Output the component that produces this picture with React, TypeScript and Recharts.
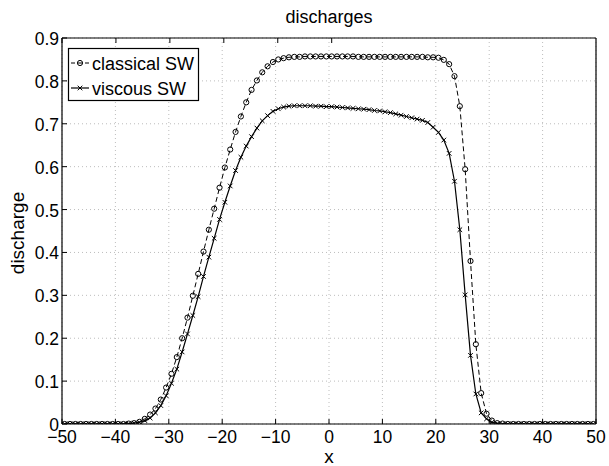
import React from "react";
import { LineChart, Line, XAxis, YAxis, CartesianGrid } from "recharts";

const xs = [
  -49.5, -48.5, -47.5, -46.5, -45.5, -44.5, -43.5, -42.5, -41.5, -40.5,
  -39.5, -38.5, -37.5, -36.5, -35.5, -34.5, -33.5, -32.5, -31.5, -30.5,
  -29.5, -28.5, -27.5, -26.5, -25.5, -24.5, -23.5, -22.5, -21.5, -20.5,
  -19.5, -18.5, -17.5, -16.5, -15.5, -14.5, -13.5, -12.5, -11.5, -10.5,
  -9.5, -8.5, -7.5, -6.5, -5.5, -4.5, -3.5, -2.5, -1.5, -0.5,
  0.5, 1.5, 2.5, 3.5, 4.5, 5.5, 6.5, 7.5, 8.5, 9.5,
  10.5, 11.5, 12.5, 13.5, 14.5, 15.5, 16.5, 17.5, 18.5, 19.5,
  20.5, 21.5, 22.5, 23.5, 24.5, 25.5, 26.5, 27.5, 28.5, 29.5,
  30.5, 31.5, 32.5, 33.5, 34.5, 35.5, 36.5, 37.5, 38.5, 39.5,
  40.5, 41.5, 42.5, 43.5, 44.5, 45.5, 46.5, 47.5, 48.5, 49.5,
];

const classical = [
  0, 0, 0, 0, 0, 0, 0, 0, 0, 0,
  0, 0, 0.001, 0.002, 0.005, 0.012, 0.022, 0.036, 0.057, 0.085,
  0.117, 0.156, 0.2, 0.248, 0.299, 0.35, 0.402, 0.453, 0.502, 0.551,
  0.598, 0.64, 0.681, 0.717, 0.75, 0.779, 0.801, 0.82, 0.834, 0.844,
  0.85, 0.853, 0.855, 0.856, 0.856, 0.857, 0.857, 0.857, 0.857, 0.857,
  0.857, 0.857, 0.857, 0.857, 0.857, 0.856, 0.856, 0.856, 0.856, 0.856,
  0.856, 0.856, 0.856, 0.856, 0.856, 0.856, 0.856, 0.856, 0.855, 0.855,
  0.854, 0.849, 0.839, 0.811, 0.741, 0.594, 0.38, 0.186, 0.072, 0.024,
  0.008, 0.002, 0.001, 0, 0, 0, 0, 0, 0, 0,
  0, 0, 0, 0, 0, 0, 0, 0, 0, 0,
];

const viscous = [
  0, 0, 0, 0, 0, 0, 0, 0, 0, 0,
  0, 0, 0.001, 0.002, 0.004, 0.008, 0.014, 0.026, 0.043, 0.066,
  0.095, 0.128, 0.168, 0.21, 0.253, 0.297, 0.344, 0.389, 0.433, 0.477,
  0.517, 0.555, 0.591, 0.622, 0.648, 0.67, 0.69, 0.707, 0.719, 0.729,
  0.735, 0.739, 0.741, 0.742, 0.742, 0.742, 0.742, 0.741, 0.741, 0.74,
  0.74, 0.739, 0.738, 0.737, 0.736, 0.735, 0.734, 0.733, 0.731, 0.73,
  0.728, 0.726, 0.723, 0.72, 0.717, 0.714, 0.711, 0.708, 0.703, 0.692,
  0.68, 0.662, 0.631, 0.566, 0.453, 0.301, 0.16, 0.07, 0.026, 0.012,
  0.004, 0.001, 0, 0, 0, 0, 0, 0, 0, 0,
  0, 0, 0, 0, 0, 0, 0, 0, 0, 0,
];

const xTicks = [-50, -40, -30, -20, -10, 0, 10, 20, 30, 40, 50];
const yTicks = [0, 0.1, 0.2, 0.3, 0.4, 0.5, 0.6, 0.7, 0.8, 0.9];

const data = xs.map((x, i) => ({ x, classical: classical[i], viscous: viscous[i] }));

const FONT = '"Liberation Sans", Arial, Helvetica, sans-serif';
const TICK = 5;
const TICK_FONT = 17.5;

const LeftTick = (p: any) => (
  <g>
    <line x1={p.x} y1={p.y} x2={p.x + TICK} y2={p.y} stroke="#000" />
    <text x={p.x - 3} y={p.y + 1} textAnchor="end" dominantBaseline="central" fontSize={TICK_FONT} fontFamily={FONT} fill="#000">
      {String(p.payload.value)}
    </text>
  </g>
);
const RightTick = (p: any) => <line x1={p.x - TICK} y1={p.y} x2={p.x} y2={p.y} stroke="#000" />;
const BottomTick = (p: any) => (
  <g>
    <line x1={p.x} y1={p.y} x2={p.x} y2={p.y - TICK} stroke="#000" />
    <text x={p.x} y={p.y + 19} textAnchor="middle" fontSize={TICK_FONT} fontFamily={FONT} fill="#000">
      {p.payload.value < 0 ? "\u2212" + Math.abs(p.payload.value) : String(p.payload.value)}
    </text>
  </g>
);
const TopTick = (p: any) => <line x1={p.x} y1={p.y} x2={p.x} y2={p.y + TICK} stroke="#000" />;

const CircleDot = (p: any) =>
  p.cx == null ? null : (
    <circle key={p.index} cx={p.cx} cy={p.cy} r={2.6} fill="none" stroke="#000" strokeWidth={1} />
  );
const CrossDot = (p: any) => {
  if (p.cx == null) return null;
  const s = 2.3;
  return (
    <path
      key={p.index}
      d={`M${p.cx - s},${p.cy - s}L${p.cx + s},${p.cy + s}M${p.cx - s},${p.cy + s}L${p.cx + s},${p.cy - s}`}
      stroke="#000"
      strokeWidth={1}
    />
  );
};

export default function App() {
  return (
    <div style={{ position: "absolute", left: 0, top: 0, width: 609, height: 466, background: "#fff" }}>
      <LineChart width={609} height={466} data={data} margin={{ top: 0, right: 0, left: 0, bottom: 0 }}>
        <CartesianGrid stroke="#bdbdbd" strokeDasharray="1 3" />
        <XAxis
          dataKey="x"
          type="number"
          domain={[-50, 50]}
          ticks={xTicks}
          height={42}
          tickSize={0}
          tickMargin={0}
          tick={<BottomTick />}
          axisLine={{ stroke: "#000", strokeWidth: 1.2 }}
          tickLine={false}
          allowDataOverflow
        />
        <XAxis
          xAxisId="top"
          orientation="top"
          type="number"
          domain={[-50, 50]}
          ticks={xTicks}
          height={38}
          tickSize={0}
          tickMargin={0}
          tick={<TopTick />}
          axisLine={{ stroke: "#000", strokeWidth: 1.2 }}
          tickLine={false}
        />
        <YAxis
          type="number"
          domain={[0, 0.9]}
          ticks={yTicks}
          width={62}
          tickSize={0}
          tickMargin={0}
          tick={<LeftTick />}
          axisLine={{ stroke: "#000", strokeWidth: 1.2 }}
          tickLine={false}
          allowDataOverflow
        />
        <YAxis
          yAxisId="right"
          orientation="right"
          type="number"
          domain={[0, 0.9]}
          ticks={yTicks}
          width={13}
          tickSize={0}
          tickMargin={0}
          tick={<RightTick />}
          axisLine={{ stroke: "#000", strokeWidth: 1.2 }}
          tickLine={false}
        />
        <Line
          dataKey="classical"
          type="linear"
          stroke="#000"
          strokeWidth={1}
          strokeDasharray="5 3"
          dot={<CircleDot />}
          activeDot={false}
          isAnimationActive={false}
        />
        <Line
          dataKey="viscous"
          type="linear"
          stroke="#000"
          strokeWidth={1.2}
          dot={<CrossDot />}
          activeDot={false}
          isAnimationActive={false}
        />
      </LineChart>
      <svg width={609} height={466} style={{ position: "absolute", left: 0, top: 0, pointerEvents: "none" }}>
        <text x={329} y={23} textAnchor="middle" fontSize={18} fontFamily={FONT}>discharges</text>
        <text x={329} y={463} textAnchor="middle" fontSize={19} fontFamily={FONT}>x</text>
        <text
          x={0}
          y={0}
          transform="translate(24,233) rotate(-90)"
          textAnchor="middle"
          fontSize={19}
          fontFamily={FONT}
        >
          discharge
        </text>
        <rect x={68.5} y={48.5} width={130} height={52} fill="#fff" stroke="#000" strokeWidth={1.2} />
        <line x1={71} y1={63} x2={89} y2={63} stroke="#000" strokeDasharray="4 3" />
        <circle cx={80} cy={63} r={2.6} fill="none" stroke="#000" />
        <text x={92} y={69.5} fontSize={18} fontFamily={FONT}>classical SW</text>
        <line x1={71} y1={88} x2={89} y2={88} stroke="#000" strokeWidth={1.2} />
        <path d="M77.7,85.7L82.3,90.3M77.7,90.3L82.3,85.7" stroke="#000" />
        <text x={92} y={94.5} fontSize={18} fontFamily={FONT}>viscous SW</text>
      </svg>
    </div>
  );
}
